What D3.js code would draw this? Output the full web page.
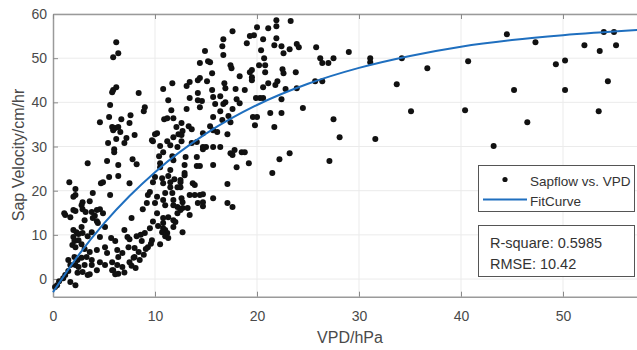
<!DOCTYPE html>
<html>
<head>
<meta charset="utf-8">
<script src="https://cdn.jsdelivr.net/npm/d3@7"></script>
<style>
  body { margin: 0; background: #fff; }
  svg { display: block; font-family: "Liberation Sans", Arial, sans-serif; }
</style>
</head>
<body>
<div id="chart"></div>
<script>
const vpdObs = [
  25.8, 26.2, 26.4, 27.0, 27.5, 29.0, 31.1, 31.1, 34.2, 33.7, 36.7, 25.7, 26.4, 24.5, 27.5, 28.1, 27.1, 35.1, 31.6, 40.4,
  40.7, 44.5, 45.2, 46.5, 43.2, 47.3, 49.3, 50.2, 50.2, 52.1, 53.6, 54.0, 55.0, 55.2, 54.4, 53.5, 23.2, 22.2, 21.5,
  23.3, 21.9, 21.9, 21.1, 20.0, 19.7, 20.6, 21.9, 21.7, 22.4, 22.6, 23.2, 23.9, 24.1, 20.4, 20.7, 20.2, 20.8, 20.8, 19.5,
  19.5, 19.5, 22.5, 22.6, 23.8, 21.1, 21.8, 22.0, 20.6, 22.8, 19.9, 20.3, 20.6, 22.4, 21.3, 22.4, 19.6, 20.0, 19.8, 21.7, 23.9,
  17.6, 19.0, 19.3, 16.7, 16.6, 16.7, 14.9, 15.2, 14.4, 15.4, 17.4, 17.5, 15.6, 18.3, 19.3, 14.2, 14.4, 15.1, 13.4, 11.7,
  10.8, 13.1, 16.8, 16.9, 15.6, 17.9, 14.2, 18.8, 13.4, 15.7, 16.4, 14.2, 14.6, 18.0, 18.3, 16.9, 16.7, 15.9, 14.4, 13.1,
  17.6, 11.6, 16.4, 17.2, 10.9, 11.2, 12.6, 15.7, 16.6, 17.4, 12.1, 13.3, 13.6, 15.4, 15.7, 10.2, 12.3, 12.7, 14.7, 16.1,
  17.1, 9.7, 11.2, 12.6, 11.5, 13.6, 14.1, 10.5, 12.2, 14.7, 15.0, 15.7, 16.4, 17.8, 18.5, 17.4,
  6.2, 6.4, 5.9, 6.2, 5.9, 5.8, 8.4, 5.6, 9.0, 8.9, 5.5, 7.6, 6.7, 4.6, 7.5, 5.8, 6.1, 6.4, 6.6, 5.9,
  8.0, 7.2, 7.0, 6.2, 5.4, 9.8, 6.0, 10.5, 11.8, 10.0, 11.3, 11.8, 12.6, 10.8, 11.8,
  3.4, 5.3, 6.4, 7.8, 8.2, 6.0, 1.6, 4.7, 4.9, 5.5, 6.4, 7.5, 2.2, 2.2, 3.9, 5.6, 2.9, 2.8, 3.6, 1.1,
  1.2, 2.0, 2.2, 2.9, 3.2, 3.8, 4.3, 4.6, 4.9, 4.1, 3.9, 4.3, 4.4, 3.1, 2.8, 2.0, 2.3, 2.5, 2.9, 2.0,
  2.1, 2.5, 3.4, 3.8, 4.6, 5.1, 5.7, 6.1, 7.0, 7.7, 7.3, 7.5, 8.2, 8.7, 9.0, 8.8, 9.2, 9.3, 9.5, 1.9,
  2.2, 2.8, 3.1, 3.6, 4.3, 5.1, 5.3, 6.3, 6.8, 7.4, 8.0, 8.4, 9.3, 2.1, 2.4, 2.8, 3.3, 1.5, 1.7, 2.2,
  2.5, 3.1, 3.8, 4.6, 5.1, 5.8, 6.3, 6.8, 6.4, 7.5, 8.0, 8.5, 2.4, 2.9, 3.4, 4.3, 5.8, 1.5, 1.2, 1.0,
  0.6, 0.4, 0.2, 2.2, 1.7, 3.6, 3.8,
  1.7, 2.0, 10.0, 10.2, 10.8, 11.0, 11.2, 11.8, 11.7, 11.0, 11.5, 12.2, 12.5, 12.9, 12.6, 14.4, 14.7, 12.5,
  10.4, 11.7, 13.0, 14.1, 14.7, 12.9, 14.1, 14.4, 15.7, 18.0, 19.2, 17.6, 18.8, 10.5, 11.5, 11.3, 10.7, 9.8, 10.8, 11.5,
  11.9, 12.5, 12.9, 12.2, 12.5, 13.7, 13.9, 17.1, 10.0, 10.8, 11.0, 11.8, 11.8, 12.7, 12.7, 13.2, 13.4, 13.9, 14.7, 14.2,
  14.7, 15.7, 17.1, 17.6, 10.2, 12.2, 13.4, 10.8, 11.3, 12.0, 11.8, 10.8, 10.7, 12.7, 11.0, 11.3, 9.7, 10.5,
  8.6, 9.5, 9.8, 8.1, 7.0, 6.4, 9.6, 8.9, 7.9, 10.3, 5.9, 6.1, 7.7, 9.1
];
const sapObs = [
  52.5, 50.0, 48.9, 48.9, 50.0, 51.4, 50.0, 49.1, 50.0, 44.1, 47.7, 44.8, 44.8, 38.7, 36.2, 32.1, 26.7, 38.0, 31.7, 38.2,
  49.3, 55.4, 42.8, 35.5, 30.1, 53.6, 48.6, 49.5, 42.8, 52.9, 51.6, 55.9, 55.9, 52.9, 44.8, 38.0, 28.5, 27.1, 24.0,
  58.4, 58.6, 57.2, 56.8, 57.0, 55.2, 54.3, 54.5, 52.9, 52.7, 51.1, 52.0, 53.2, 52.5, 51.8, 50.0, 48.4, 48.4, 46.8, 47.3,
  45.7, 45.0, 47.5, 46.6, 46.8, 44.3, 43.9, 44.8, 43.4, 43.0, 41.0, 41.0, 41.0, 40.7, 37.6, 37.6, 36.7, 36.7, 34.8, 34.4, 43.2,
  56.1, 53.4, 55.0, 54.3, 52.7, 50.7, 51.6, 49.3, 48.9, 49.1, 48.4, 47.7, 46.6, 45.9, 46.8, 45.0, 45.5, 44.8, 44.6, 44.3,
  43.0, 43.7, 44.3, 43.2, 42.8, 43.0, 42.1, 42.8, 41.0, 41.2, 41.4, 40.5, 40.3, 40.7, 39.8, 40.0, 39.6, 39.6, 38.9, 38.5,
  38.5, 38.2, 38.0, 36.9, 36.2, 36.4, 35.3, 36.7, 36.0, 35.5, 34.4, 34.6, 33.9, 34.6, 33.7, 33.0, 32.8, 33.5, 33.0, 33.3,
  32.8, 31.4, 31.2, 31.2, 30.3, 30.8, 31.0, 30.1, 29.9, 29.9, 29.9, 29.9, 29.9, 29.2, 28.7, 28.5,
  53.6, 51.1, 50.2, 43.4, 42.8, 42.3, 42.1, 39.4, 38.9, 38.0, 36.7, 37.1, 36.2, 35.5, 35.3, 34.4, 34.2, 34.4, 33.3, 33.7,
  32.6, 31.9, 30.8, 31.7, 30.8, 31.2, 29.4, 25.3, 32.1, 32.8, 40.5, 36.4, 32.6, 28.7, 26.9,
  26.2, 26.7, 25.8, 27.1, 26.0, 28.7, 21.9, 21.7, 21.9, 23.1, 23.3, 21.7, 20.4, 19.0, 19.5, 19.0, 17.4, 16.7, 17.6, 14.9,
  14.5, 15.6, 15.4, 15.8, 15.2, 15.2, 15.6, 15.8, 14.9, 14.3, 13.8, 13.1, 12.7, 13.3, 11.8, 11.1, 10.6, 10.2, 10.4, 9.5,
  8.6, 8.8, 9.7, 10.6, 9.5, 11.8, 9.3, 8.6, 11.1, 13.8, 9.5, 9.0, 9.7, 8.6, 10.4, 15.8, 17.2, 19.0, 19.7, 7.7,
  7.2, 7.9, 6.8, 6.1, 6.6, 7.2, 5.9, 6.6, 5.9, 7.2, 7.0, 6.1, 7.2, 5.0, 4.3, 4.8, 5.0, 4.3, 3.2, 3.2,
  2.7, 3.2, 4.3, 3.8, 3.2, 3.8, 3.2, 2.7, 5.0, 3.8, 5.0, 4.3, 1.4, 1.6, 0.9, 2.0, 2.0, 1.8, 0.9, 0.2,
  -0.5, -1.4, -1.8, -1.4, -0.7, 1.1, 3.2,
  14.0, 18.6, 23.1, 18.6, 12.7, 11.1, 10.4, 13.3, 19.5, 19.5, 20.8, 16.3, 15.6, 24.0, 18.3, 19.0, 17.4, 22.4,
  27.8, 27.8, 27.6, 27.6, 29.4, 25.8, 25.6, 25.6, 25.8, 25.3, 26.2, 28.1, 28.7, 26.2, 24.7, 23.3, 22.8, 21.9, 21.7, 21.9,
  22.6, 21.9, 23.5, 20.8, 20.8, 21.7, 21.3, 21.5, 17.2, 17.9, 16.7, 17.9, 16.7, 17.4, 16.1, 16.1, 19.0, 19.0, 19.2, 17.2,
  16.5, 18.3, 17.2, 16.3, 14.9, 14.9, 14.5, 13.8, 14.0, 12.9, 11.8, 11.5, 10.6, 10.6, 9.7, 9.3, 8.8, 7.9,
  10.0, 11.5, 13.0, 2.5, 1.5, 1.2, 8.0, 5.5, 4.8, 12.0, 2.0, 1.1, 3.0, 6.8
];

// fitted curve
const fitVpd = [0, 2.5, 5, 7.5, 10, 15, 20, 25, 30, 35, 40, 45, 50, 57.5];
const fitSap = [-3.0, 5.4, 12.6, 18.8, 24.2, 32.9, 39.4, 44.2, 47.8, 50.5, 52.6, 54.1, 55.2, 56.4];

const xTicks = [0, 10, 20, 30, 40, 50];
const yTicks = [0, 10, 20, 30, 40, 50, 60];
const statLines = ["R-square: 0.5985", "RMSE: 10.42"];

const W = 637, H = 350;
const plot = { left: 53, top: 14, right: 639.5, bottom: 296.7 };

const svg = d3.select("#chart").append("svg")
    .attr("width", W)
    .attr("height", H);

const x = d3.scaleLinear().domain([0, 57.5]).range([plot.left, plot.right]);
const y = d3.scaleLinear().domain([-4, 60]).range([plot.bottom, plot.top]);

// grid
svg.append("g").selectAll("line")
    .data(xTicks.slice(1))
    .join("line")
    .attr("x1", d => x(d)).attr("x2", d => x(d))
    .attr("y1", plot.top).attr("y2", plot.bottom)
    .attr("stroke", "#ebebeb").attr("stroke-width", 1);
svg.append("g").selectAll("line")
    .data(yTicks)
    .join("line")
    .attr("x1", plot.left).attr("x2", plot.right)
    .attr("y1", d => y(d)).attr("y2", d => y(d))
    .attr("stroke", "#ebebeb").attr("stroke-width", 1);

// axes (ticks point inward, matlab style)
const styleAxis = g => {
    g.select(".domain").attr("stroke", "#9a9a9a").attr("stroke-width", 1.5);
    g.selectAll(".tick line").attr("stroke", "#8a8a8a");
    g.selectAll(".tick text").attr("fill", "#4a4a4a").style("font-size", "14px");
};
svg.append("g")
    .attr("transform", `translate(0, ${plot.bottom})`)
    .call(d3.axisBottom(x).tickValues(xTicks).tickSizeInner(-5).tickSizeOuter(0).tickPadding(14))
    .call(styleAxis);
svg.append("g")
    .attr("transform", `translate(${plot.left}, 0)`)
    .call(d3.axisLeft(y).tickValues(yTicks).tickSizeInner(-5).tickSizeOuter(0).tickPadding(6))
    .call(styleAxis);
svg.append("g")
    .attr("transform", `translate(0, ${plot.top})`)
    .call(d3.axisTop(x).tickValues(xTicks).tickSizeInner(-5).tickSizeOuter(0).tickFormat(""))
    .call(styleAxis);

// scatter
const pts = vpdObs.map((v, i) => ({ vpd: v, sap: sapObs[i] }));
svg.append("g").selectAll("circle")
    .data(pts)
    .join("circle")
    .attr("cx", d => x(d.vpd))
    .attr("cy", d => y(d.sap))
    .attr("r", 3)
    .attr("fill", "#111");

// fit curve
const fit = fitVpd.map((v, i) => [v, fitSap[i]]);
svg.append("path")
    .datum(fit)
    .attr("fill", "none")
    .attr("stroke", "#1f6fbf")
    .attr("stroke-width", 2)
    .attr("d", d3.line().x(d => x(d[0])).y(d => y(d[1])).curve(d3.curveMonotoneX));

// axis labels
svg.append("text")
    .attr("x", 350).attr("y", 343)
    .attr("text-anchor", "middle")
    .attr("fill", "#4a4a4a")
    .style("font-size", "16px")
    .text("VPD/hPa");
svg.append("text")
    .attr("transform", "translate(24, 155) rotate(-90)")
    .attr("text-anchor", "middle")
    .attr("fill", "#4a4a4a")
    .style("font-size", "16px")
    .text("Sap Velocity/cm/hr");

// legend
const leg = svg.append("g");
leg.append("rect")
    .attr("x", 478.5).attr("y", 165.5).attr("width", 156).attr("height", 46)
    .attr("fill", "#fff").attr("stroke", "#555").attr("stroke-width", 1);
leg.append("circle").attr("cx", 505).attr("cy", 179.5).attr("r", 2.6).attr("fill", "#111");
leg.append("text").attr("x", 530).attr("y", 185.5)
    .attr("fill", "#333").style("font-size", "13.5px").text("Sapflow vs. VPD");
leg.append("line").attr("x1", 483).attr("x2", 527).attr("y1", 199.5).attr("y2", 199.5)
    .attr("stroke", "#1f6fbf").attr("stroke-width", 2);
leg.append("text").attr("x", 530).attr("y", 206)
    .attr("fill", "#333").style("font-size", "13.5px").text("FitCurve");

// stats box
const box = svg.append("g");
box.append("rect")
    .attr("x", 478.5).attr("y", 225.5).attr("width", 156).attr("height", 51)
    .attr("fill", "#fff").attr("stroke", "#555").attr("stroke-width", 1);
box.selectAll("text")
    .data(statLines)
    .join("text")
    .attr("x", 490).attr("y", (d, i) => 248 + i * 21)
    .attr("fill", "#333").style("font-size", "14.5px")
    .text(d => d);
</script>
</body>
</html>
